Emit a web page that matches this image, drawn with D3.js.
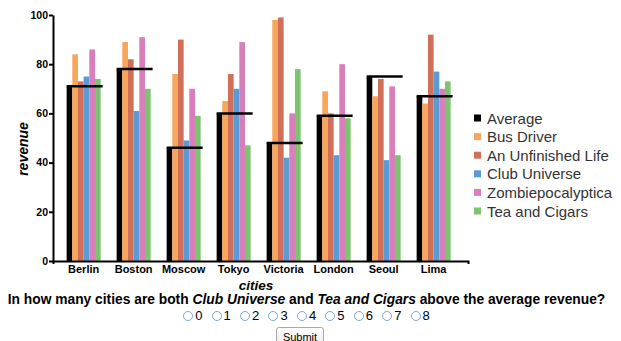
<!DOCTYPE html>
<html>
<head>
<meta charset="utf-8">
<script src="https://cdn.jsdelivr.net/npm/d3@7"></script>
<style>
  body { margin: 0; font-family: Arial, "Liberation Sans", sans-serif; background: #fff; }
  svg { position: absolute; left: 0; top: 0; }
  .axis path, .axis line { stroke: #000; stroke-width: 2; }
  .axis text { font-family: Arial, "Liberation Sans", sans-serif; font-weight: bold; fill: #000; }
  #question { position: absolute; left: 0; top: 293px; width: 613px; text-align: center;
    font-size: 13.8px; line-height: 13px; font-weight: bold; white-space: nowrap; }
  #choices { position: absolute; left: 0; top: 309px; width: 613px; display: flex;
    justify-content: center; font-size: 13px; line-height: 14px; }
  #choices label { display: inline-flex; align-items: center; margin: 0 4.6px; }
  #choices input { appearance: none; -webkit-appearance: none; box-sizing: border-box;
    width: 10px; height: 10px; border: 1px solid #7fa7d4; border-radius: 50%;
    margin: 0 2px 0 0; background: #fff; }
  #submit { position: absolute; left: 276px; top: 327px; width: 48px; height: 19px;
    font-size: 11px; font-family: Arial, "Liberation Sans", sans-serif; padding: 0;
    border: 1px solid #a9a9a9; border-radius: 3px; background: linear-gradient(#fff, #ececec); }
</style>
</head>
<body>
<svg id="chart"></svg>
<div id="question">In how many cities are both <i>Club Universe</i> and <i>Tea and Cigars</i> above the average revenue?</div>
<div id="choices"></div>
<button id="submit">Submit</button>
<script>
// data
const cities = ["Berlin", "Boston", "Moscow", "Tokyo", "Victoria", "London", "Seoul", "Lima"];
const seriesNames = ["Average", "Bus Driver", "An Unfinished Life", "Club Universe", "Zombiepocalyptica", "Tea and Cigars"];
const average = [71, 78, 46, 60, 48, 59, 75, 67];
const busDriver = [84, 89, 76, 65, 98, 69, 67, 64];
const unfinishedLife = [73, 82, 90, 76, 99, 60, 74, 92];
const clubUniverse = [75, 61, 49, 70, 42, 43, 41, 77];
const zombiepocalyptica = [86, 91, 70, 89, 60, 80, 71, 70];
const teaAndCigars = [74, 70, 59, 47, 78, 58, 43, 73];
const yTicks = [0, 20, 40, 60, 80, 100];
const answers = [0, 1, 2, 3, 4, 5, 6, 7, 8];

const colors = ["#000000", "#f9a65a", "#d0705a", "#5b9bd5", "#d97dbb", "#7cc46d"];
const seriesValues = [average, busDriver, unfinishedLife, clubUniverse, zombiepocalyptica, teaAndCigars];

const width = 621;
const height = 295;

const svg = d3.select("#chart").attr("width", width).attr("height", height);

const xScale = d3
  .scaleBand()
  .domain(cities)
  .range([53, 468])
  .paddingInner(0.32)
  .paddingOuter(0.31)
  .align(0.44);

const inner = d3
  .scaleBand()
  .domain(seriesNames)
  .range([0, xScale.bandwidth()]);

const yScale = d3.scaleLinear().domain([0, 100]).range([261, 15]);

const colorScale = d3.scaleOrdinal().domain(seriesNames).range(colors);

// one row per city and series
const rows = [];
cities.forEach((c, i) => {
  seriesNames.forEach((s, j) => {
    rows.push({ city: c, series: s, value: seriesValues[j][i] });
  });
});

svg
  .append("g")
  .selectAll("rect")
  .data(rows)
  .enter()
  .append("rect")
  .attr("x", (d) => xScale(d.city) + inner(d.series))
  .attr("y", (d) => yScale(d.value))
  .attr("width", inner.bandwidth())
  .attr("height", (d) => yScale(0) - yScale(d.value))
  .attr("fill", (d) => colorScale(d.series));

// average marker lines
svg
  .append("g")
  .selectAll("line")
  .data(cities)
  .enter()
  .append("line")
  .attr("x1", (d) => xScale(d))
  .attr("x2", (d) => xScale(d) + xScale.bandwidth() + 2)
  .attr("y1", (d, i) => yScale(average[i]))
  .attr("y2", (d, i) => yScale(average[i]))
  .attr("stroke", "#000")
  .attr("stroke-width", 2.5);

const xAxis = d3.axisBottom(xScale).tickSize(0).tickSizeOuter(3).tickPadding(4);
const yAxis = d3.axisLeft(yScale).tickValues(yTicks).tickSize(4).tickSizeOuter(0).tickPadding(1);

svg
  .append("g")
  .attr("class", "axis")
  .attr("transform", "translate(0," + yScale(0) + ")")
  .call(xAxis)
  .selectAll("text")
  .style("font-size", "11px");

svg
  .append("g")
  .attr("class", "axis")
  .attr("transform", "translate(53,0)")
  .call(yAxis)
  .selectAll("text")
  .style("font-size", "10.5px");

svg
  .append("text")
  .attr("transform", "translate(27.5,149) rotate(-90)")
  .style("text-anchor", "middle")
  .style("font-size", "14px")
  .style("font-weight", "bold")
  .style("font-style", "italic")
  .text("revenue");

svg
  .append("text")
  .attr("x", 256)
  .attr("y", 289.5)
  .style("text-anchor", "middle")
  .style("font-size", "13.5px")
  .style("font-weight", "bold")
  .style("font-style", "italic")
  .text("cities");

// legend
const legend = svg
  .append("g")
  .selectAll("g")
  .data(seriesNames)
  .enter()
  .append("g")
  .attr("transform", (d, i) => "translate(474," + (118 + i * 18.6) + ")");

legend
  .append("rect")
  .attr("y", -3.5)
  .attr("width", 7)
  .attr("height", 7)
  .attr("fill", (d) => colorScale(d));

legend
  .append("text")
  .attr("x", 13)
  .attr("y", 5.5)
  .style("font-size", "15px")
  .style("fill", "#333")
  .text((d) => d);

// answer choices
const choice = d3
  .select("#choices")
  .selectAll("label")
  .data(answers)
  .enter()
  .append("label");

choice.append("input").attr("type", "radio").attr("name", "answer").attr("value", (d) => d);
choice.append("span").text((d) => d);
</script>
</body>
</html>
